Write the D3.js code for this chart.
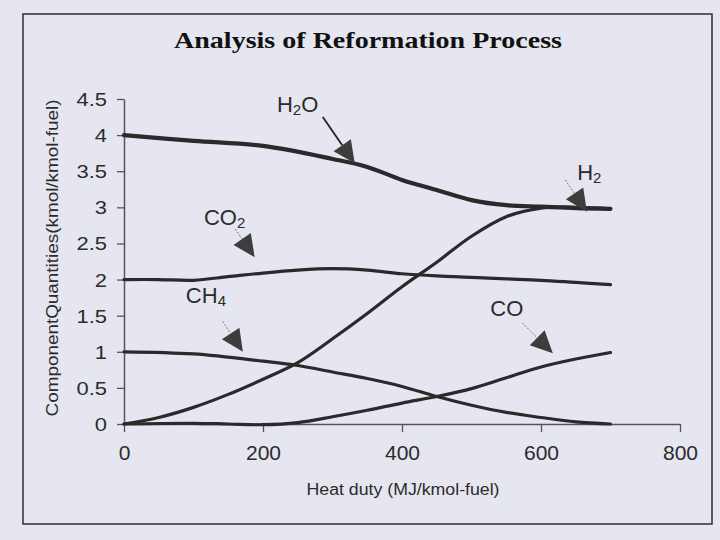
<!DOCTYPE html>
<html>
<head>
<meta charset="utf-8">
<script src="https://cdn.jsdelivr.net/npm/d3@7"></script>
<style>
  html, body { margin: 0; padding: 0; background: #e6e6f0; }
  svg { display: block; }
  .tick text { font-family: "Liberation Sans", Arial, sans-serif; fill: #2b2b2b; }
  .lbl { font-family: "Liberation Sans", Arial, sans-serif; fill: #2b2b2b; }
</style>
</head>
<body>
<div id="chart"></div>
<script>
// values (heat duty, kmol per kmol fuel)
var h2oX = [0, 100, 200, 300, 350, 400, 450, 500, 550, 600, 650, 700];
var h2oY = [4.0, 3.92, 3.85, 3.67, 3.56, 3.38, 3.24, 3.1, 3.03, 3.01, 2.99, 2.98];

var h2X = [0, 50, 100, 150, 200, 250, 300, 350, 400, 450, 500, 550, 600, 650, 700];
var h2Y = [0.0, 0.09, 0.23, 0.41, 0.62, 0.85, 1.18, 1.53, 1.9, 2.24, 2.6, 2.87, 2.99, 3.0, 2.98];

var co2X = [0, 50, 100, 150, 200, 250, 300, 350, 400, 450, 500, 550, 600, 650, 700];
var co2Y = [2.0, 2.0, 1.99, 2.04, 2.09, 2.13, 2.15, 2.13, 2.08, 2.05, 2.03, 2.01, 1.99, 1.96, 1.93];

var ch4X = [0, 100, 200, 250, 300, 350, 400, 450, 500, 550, 600, 650, 700];
var ch4Y = [1.0, 0.97, 0.87, 0.81, 0.72, 0.63, 0.52, 0.38, 0.26, 0.16, 0.09, 0.03, 0.0];

var coX = [0, 100, 150, 200, 250, 300, 350, 400, 450, 500, 550, 600, 650, 700];
var coY = [0.0, 0.01, 0.0, -0.01, 0.02, 0.1, 0.19, 0.29, 0.38, 0.49, 0.64, 0.79, 0.9, 0.99];

var xTicks = [0, 200, 400, 600, 800];
var yTicks = [0, 0.5, 1, 1.5, 2, 2.5, 3, 3.5, 4, 4.5];
var yTickLabels = ["0", "0.5", "1", "1.5", "2", "2.5", "3", "3.5", "4", "4.5"];

// labels: [main, subscript, rest], label anchor, line start, arrow tip (all data units)
var labelNames = [["H", "2", "O"], ["H", "2", ""], ["CO", "2", ""], ["CH", "4", ""], ["CO", "", ""]];
var labelAt = [[220, 4.32], [652, 3.38], [115, 2.75], [89, 1.68], [527, 1.5]];
var arrowFrom = [[286, 4.25], [635, 3.38], [160, 2.7], [142, 1.42], [573, 1.4]];
var arrowTip = [[332, 3.61], [666, 2.94], [188, 2.31], [171, 1.0], [617, 0.98]];

var svgWidth = 720;
var svgHeight = 540;

var svg = d3.select("#chart")
  .append("svg")
  .attr("width", svgWidth)
  .attr("height", svgHeight);

// paper + frame
svg.append("rect")
  .attr("width", svgWidth).attr("height", svgHeight)
  .attr("fill", "#e6e6f0");
svg.append("rect")
  .attr("x", 23).attr("y", 14)
  .attr("width", 689).attr("height", 510)
  .attr("fill", "none")
  .attr("stroke", "#3a3a3a")
  .attr("stroke-width", 1.6);

var xScale = d3.scaleLinear().domain([0, 800]).range([124, 680]);
var yScale = d3.scaleLinear().domain([0, 4.5]).range([424, 99]);

// axes
var bottomAxis = d3.axisBottom(xScale)
  .tickValues(xTicks)
  .tickSize(8)
  .tickSizeOuter(0)
  .tickPadding(13);
var leftAxis = d3.axisLeft(yScale)
  .tickValues(yTicks)
  .tickFormat((d, i) => yTickLabels[i])
  .tickSize(7)
  .tickSizeOuter(0)
  .tickPadding(10);

var gx = svg.append("g")
  .attr("transform", `translate(0, ${yScale(0)})`)
  .call(bottomAxis);
var gy = svg.append("g")
  .attr("transform", `translate(${xScale(0)}, 0)`)
  .call(leftAxis);

[gx, gy].forEach(function(g) {
  g.select(".domain").attr("stroke", "#555").attr("stroke-width", 1.5);
  g.selectAll(".tick line").attr("stroke", "#555").attr("stroke-width", 1.3);
});
gx.selectAll(".tick text").attr("font-size", 21);
// y labels in the scan are a bit squat and wide
gy.selectAll(".tick text")
  .attr("font-size", 18)
  .attr("dy", "0.36em")
  .each(function() {
    var w = this.getComputedTextLength();
    d3.select(this).attr("textLength", w * 1.22).attr("lengthAdjust", "spacingAndGlyphs");
  });

// curves
var series = [
  { x: h2oX, y: h2oY, w: 4.2 },
  { x: h2X, y: h2Y, w: 3.2 },
  { x: co2X, y: co2Y, w: 3.2 },
  { x: ch4X, y: ch4Y, w: 3.2 },
  { x: coX, y: coY, w: 3.2 }
];

var line = d3.line()
  .x(d => xScale(d[0]))
  .y(d => yScale(d[1]))
  .curve(d3.curveCatmullRom.alpha(0.5));

svg.append("g").selectAll("path")
  .data(series)
  .enter()
  .append("path")
  .attr("d", s => line(s.x.map((v, i) => [v, s.y[i]])))
  .attr("fill", "none")
  .attr("stroke", "#2a2a2a")
  .attr("stroke-width", s => s.w)
  .attr("stroke-linecap", "round");

// species labels with arrows
var annot = svg.append("g");
labelNames.forEach(function(name, i) {
  var t = annot.append("text")
    .attr("class", "lbl")
    .attr("x", xScale(labelAt[i][0]))
    .attr("y", yScale(labelAt[i][1]))
    .attr("font-size", 22);
  t.append("tspan").text(name[0]);
  if (name[1]) {
    t.append("tspan").attr("font-size", 15).attr("dy", 3).text(name[1]);
  }
  if (name[2]) {
    t.append("tspan").attr("dy", -3).text(name[2]);
  }

  var x0 = xScale(arrowFrom[i][0]), y0 = yScale(arrowFrom[i][1]);
  var x1 = xScale(arrowTip[i][0]), y1 = yScale(arrowTip[i][1]);
  var dx = x1 - x0, dy = y1 - y0;
  var len = Math.sqrt(dx * dx + dy * dy);
  var ux = dx / len, uy = dy / len;
  var headL = 22, headW = 10.5;
  var bx = x1 - ux * headL, by = y1 - uy * headL;

  annot.append("line")
    .attr("x1", x0).attr("y1", y0)
    .attr("x2", bx).attr("y2", by)
    .attr("stroke", i === 0 ? "#222" : "#777")
    .attr("stroke-width", i === 0 ? 1.8 : 1)
    .attr("stroke-dasharray", i === 0 ? null : "2,1.5");

  annot.append("path")
    .attr("d", "M" + x1 + "," + y1 +
      "L" + (bx - uy * headW) + "," + (by + ux * headW) +
      "L" + (bx + uy * headW) + "," + (by - ux * headW) + "Z")
    .attr("fill", "#3d3d3d");
});

// title and axis titles
svg.append("text")
  .attr("x", 368)
  .attr("y", 48)
  .attr("text-anchor", "middle")
  .attr("font-family", "'Liberation Serif', 'Times New Roman', serif")
  .attr("font-weight", "bold")
  .attr("font-size", 23)
  .attr("textLength", 388)
  .attr("lengthAdjust", "spacingAndGlyphs")
  .attr("fill", "#111")
  .text("Analysis of Reformation Process");

svg.append("text")
  .attr("class", "lbl")
  .attr("x", 403)
  .attr("y", 495)
  .attr("text-anchor", "middle")
  .attr("font-size", 16)
  .attr("textLength", 193)
  .attr("lengthAdjust", "spacingAndGlyphs")
  .text("Heat duty (MJ/kmol-fuel)");

svg.append("text")
  .attr("class", "lbl")
  .attr("transform", "translate(58, 258) rotate(-90)")
  .attr("text-anchor", "middle")
  .attr("font-size", 17)
  .attr("textLength", 317)
  .attr("lengthAdjust", "spacingAndGlyphs")
  .text("ComponentQuantities(kmol/kmol-fuel)");
</script>
</body>
</html>
